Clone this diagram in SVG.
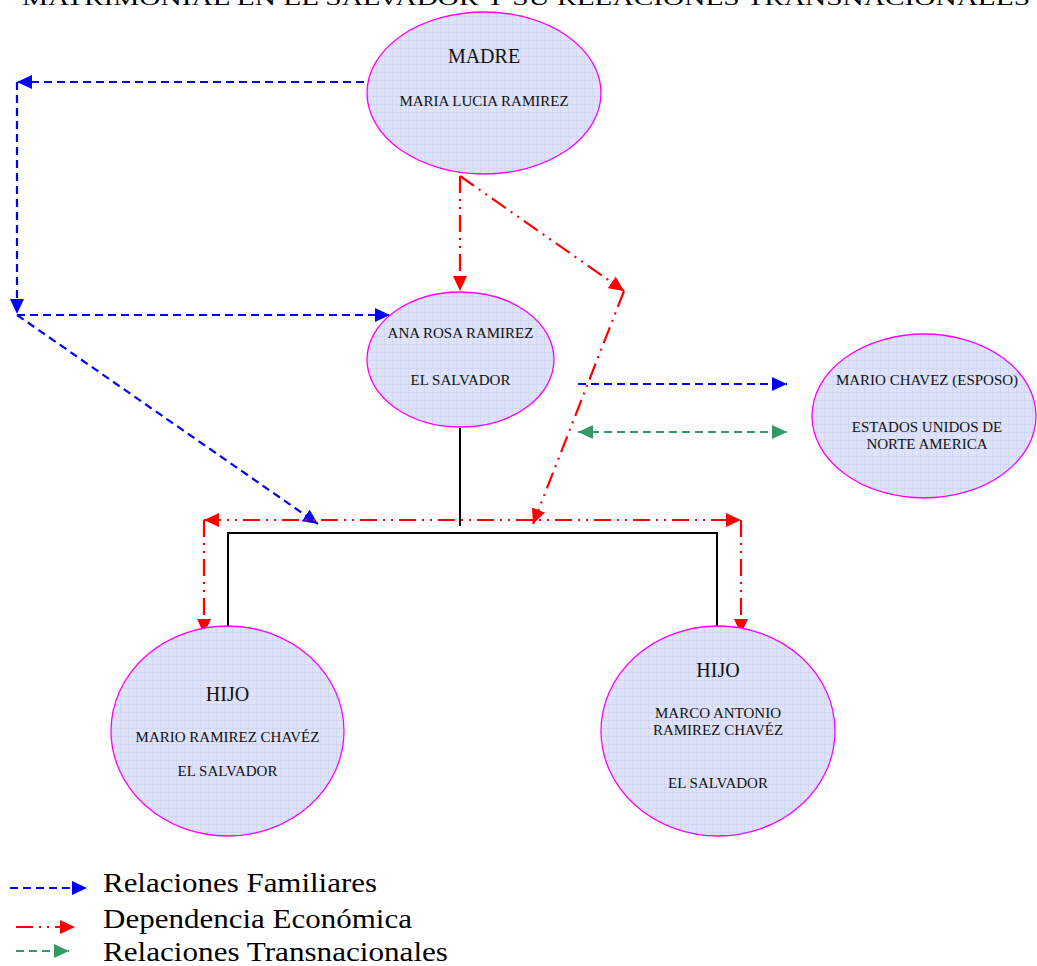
<svg xmlns="http://www.w3.org/2000/svg" width="1037" height="966" viewBox="0 0 1037 966">
<style>
.node ellipse{fill:url(#tex);stroke:#ff00ff;stroke-width:1.3}
.t{font-family:"Liberation Serif","Times New Roman",serif;fill:#111;text-anchor:middle}
.big{font-size:20px}
.sm{font-size:15px}
.blue{stroke:#0000ff;stroke-width:2.2;fill:none;stroke-dasharray:8 5}
.red{stroke:#ff0000;stroke-width:2.2;fill:none;stroke-dasharray:17 6 2 6 2 6}
.green{stroke:#339966;stroke-width:2.2;fill:none;stroke-dasharray:8 5}
.black{stroke:#000;stroke-width:2;fill:none}
.leg{font-family:"Liberation Serif","Times New Roman",serif;font-size:27px;fill:#000}
</style>
<defs>
<pattern id="tex" width="8" height="8" patternUnits="userSpaceOnUse">
<rect width="8" height="8" fill="#dde2f8"/>
<path d="M0,0.5 H8 M0.5,0 V8" stroke="#ccd5ef" stroke-width="0.7"/>
<rect x="3" y="3" width="2" height="2" fill="#e6e1f9"/>
</pattern>
<marker id="ab" markerUnits="userSpaceOnUse" markerWidth="16" markerHeight="14" refX="15" refY="7" orient="auto-start-reverse"><path d="M0,0 L15,7 L0,14 z" fill="#0000ff"/></marker>
<marker id="ar" markerUnits="userSpaceOnUse" markerWidth="16" markerHeight="14" refX="15" refY="7" orient="auto-start-reverse"><path d="M0,0 L15,7 L0,14 z" fill="#ff0000"/></marker>
<marker id="ag" markerUnits="userSpaceOnUse" markerWidth="16" markerHeight="14" refX="15" refY="7" orient="auto-start-reverse"><path d="M0,0 L15,7 L0,14 z" fill="#339966"/></marker>
</defs>
<rect width="1037" height="966" fill="#fff"/>
<text x="22" y="5" font-family="'Liberation Serif','Times New Roman',serif" font-size="20" textLength="1008" lengthAdjust="spacingAndGlyphs">MATRIMONIAL EN EL SALVADOR Y SU RELACIONES TRANSNACIONALES</text>

<g id="connectors">
<line class="blue" x1="364" y1="82" x2="17" y2="82" marker-end="url(#ab)"/>
<line class="blue" x1="17" y1="82" x2="17" y2="314" marker-end="url(#ab)"/>
<line class="blue" x1="17" y1="315" x2="390" y2="315" marker-end="url(#ab)"/>
<line class="blue" x1="17" y1="315" x2="318" y2="524" marker-end="url(#ab)"/>
<line class="blue" x1="578" y1="384" x2="787" y2="384" marker-end="url(#ab)"/>
<line class="green" x1="578" y1="432" x2="787" y2="432" marker-start="url(#ag)" marker-end="url(#ag)"/>
<line class="red" x1="460" y1="176" x2="460" y2="291" marker-end="url(#ar)"/>
<line class="red" x1="460" y1="176" x2="624" y2="291" marker-end="url(#ar)"/>
<line class="red" x1="624" y1="291" x2="533" y2="524" marker-end="url(#ar)"/>
<line class="red" x1="204" y1="520" x2="741" y2="520" marker-start="url(#ar)" marker-end="url(#ar)"/>
<line class="red" x1="204" y1="520" x2="204" y2="634" marker-end="url(#ar)"/>
<line class="red" x1="741" y1="520" x2="741" y2="634" marker-end="url(#ar)"/>
<path class="black" d="M460,428 V526 M228,627 V533 H717 V627"/>
</g>

<g id="madre" class="node">
<ellipse cx="484" cy="93" rx="117" ry="81"/>
<text class="t big" x="484" y="63">MADRE</text>
<text class="t sm" x="484" y="106">MARIA LUCIA RAMIREZ</text>
</g>
<g id="ana" class="node">
<ellipse cx="460.5" cy="359.5" rx="93.5" ry="67.5"/>
<text class="t sm" x="460.5" y="338">ANA ROSA RAMIREZ</text>
<text class="t sm" x="460.5" y="385">EL SALVADOR</text>
</g>
<g id="esposo" class="node">
<ellipse cx="924" cy="416" rx="112" ry="82"/>
<text class="t sm" x="927" y="385">MARIO CHAVEZ (ESPOSO)</text>
<text class="t sm" x="927" y="432">ESTADOS UNIDOS DE</text>
<text class="t sm" x="927" y="449">NORTE AMERICA</text>
</g>
<g id="hijo1" class="node">
<ellipse cx="227.5" cy="731" rx="116.5" ry="105"/>
<text class="t big" x="227.5" y="701">HIJO</text>
<text class="t sm" x="227.5" y="742">MARIO RAMIREZ CHAVÉZ</text>
<text class="t sm" x="227.5" y="776">EL SALVADOR</text>
</g>
<g id="hijo2" class="node">
<ellipse cx="718" cy="731" rx="117" ry="105"/>
<text class="t big" x="718" y="677">HIJO</text>
<text class="t sm" x="718" y="718">MARCO ANTONIO</text>
<text class="t sm" x="718" y="735">RAMIREZ CHAVÉZ</text>
<text class="t sm" x="718" y="788">EL SALVADOR</text>
</g>

<g id="legend">
<line class="blue" x1="10" y1="888" x2="87" y2="888" marker-end="url(#ab)"/>
<line class="red" x1="16" y1="927" x2="75" y2="927" stroke-dasharray="14 5 2 5" marker-end="url(#ar)"/>
<line class="green" x1="16" y1="951" x2="69" y2="951" marker-end="url(#ag)"/>
<text class="leg" x="103" y="892" textLength="274" lengthAdjust="spacingAndGlyphs">Relaciones Familiares</text>
<text class="leg" x="103" y="928" textLength="309" lengthAdjust="spacingAndGlyphs">Dependencia Económica</text>
<text class="leg" x="103" y="961" textLength="345" lengthAdjust="spacingAndGlyphs">Relaciones Transnacionales</text>
</g>
</svg>
